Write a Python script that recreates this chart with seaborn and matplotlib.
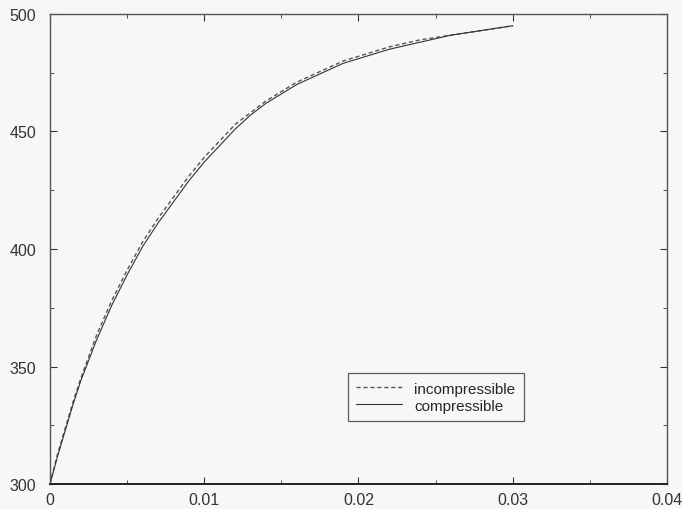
import pandas as pd
import matplotlib.pyplot as plt
import seaborn as sns
from matplotlib.ticker import MultipleLocator

# values
x = [0, 0.0005, 0.001, 0.0015, 0.002, 0.003, 0.004, 0.005, 0.006, 0.007, 0.008, 0.009, 0.010,
     0.011, 0.012, 0.013, 0.014, 0.015, 0.016, 0.017, 0.018, 0.019, 0.020,
     0.022, 0.024, 0.026, 0.028, 0.030]
incompressible = [300, 313, 324, 335, 345, 363, 378, 391, 403, 413, 422, 431, 439,
                  446, 453, 458, 463, 467, 471, 474, 477, 480, 482,
                  486, 489, 491, 493, 495]
compressible = [300, 312, 323, 334, 344, 361, 376, 389, 401, 411, 420, 429, 437,
                444, 451, 457, 462, 466, 470, 473, 476, 479, 481,
                485, 488, 491, 493, 495]
x_ticks = [0, 0.01, 0.02, 0.03, 0.04]
x_labels = ["0", "0.01", "0.02", "0.03", "0.04"]
y_ticks = [300, 350, 400, 450, 500]

df = pd.DataFrame({"x": x, "incompressible": incompressible, "compressible": compressible})

sns.set_style("ticks")
plt.rcParams["font.family"] = ["Liberation Sans", "DejaVu Sans"]

bg = "#f7f7f5"
fig = plt.figure(figsize=(6.82, 5.10), dpi=100, facecolor=bg)
ax = fig.add_axes([0.0733, 0.049, 0.9047, 0.9216])
ax.set_facecolor(bg)

sns.lineplot(data=df, x="x", y="incompressible", ax=ax, color="#555555",
             linestyle=(0, (3, 2)), linewidth=1.0, label="incompressible")
sns.lineplot(data=df, x="x", y="compressible", ax=ax, color="#333333",
             linewidth=0.8, label="compressible")

ax.set_xlim(0, 0.04)
ax.set_ylim(300, 500)
ax.set_xticks(x_ticks)
ax.set_xticklabels(x_labels)
ax.set_yticks(y_ticks)
ax.xaxis.set_minor_locator(MultipleLocator(0.005))
ax.yaxis.set_minor_locator(MultipleLocator(25))
ax.tick_params(which="both", direction="in", top=True, right=True,
               labelsize=11.5, colors="#333333")
ax.tick_params(axis="y", pad=10)
ax.tick_params(axis="x", pad=6)
ax.tick_params(which="major", length=5)
ax.tick_params(which="minor", length=3)
ax.set_xlabel("")
ax.set_ylabel("")
for s in ax.spines.values():
    s.set_color("#555555")
    s.set_linewidth(1.0)
ax.spines["bottom"].set_color("#222222")
ax.spines["bottom"].set_linewidth(1.4)

leg = ax.legend(loc="lower left", bbox_to_anchor=(0.483, 0.134), borderaxespad=0,
                fontsize=11, frameon=True, fancybox=False, handlelength=3.0,
                borderpad=0.55, labelspacing=0.2, handletextpad=0.8)
leg.get_frame().set_edgecolor("#333333")
leg.get_frame().set_facecolor(bg)
leg.get_frame().set_linewidth(0.9)

fig.savefig("out.png", dpi=100, facecolor=bg)
